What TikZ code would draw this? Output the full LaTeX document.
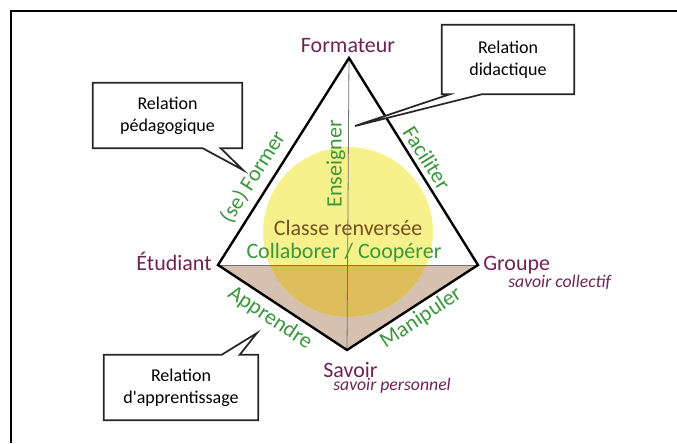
\documentclass[tikz,border=0pt]{standalone}
\usepackage{fontspec}
\setmainfont{Carlito}
\usepackage{tikz}
\usetikzlibrary{calc}
\definecolor{vertexcol}{RGB}{110,35,85}
\definecolor{verbcol}{RGB}{60,150,60}
\definecolor{classcol}{RGB}{120,80,30}
\definecolor{tanfill}{RGB}{214,192,176}
\definecolor{yellowfill}{RGB}{247,241,140}
\definecolor{goldfill}{RGB}{221,189,92}
\tikzset{vertexlbl/.style={inner sep=0pt,text=vertexcol,font=\fontsize{16.5}{19}\selectfont},
    sublbl/.style={inner sep=0pt,text=vertexcol,font=\fontsize{13.3}{16}\selectfont\itshape},
    verblbl/.style={inner sep=0pt,text=verbcol,font=\fontsize{16.5}{19}\selectfont},
    calloutbox/.style={inner sep=0pt,align=center,font=\fontsize{13.5}{16.5}\selectfont},
    boxline/.style={draw=black!85,line width=1.3pt,fill=white,line join=miter}}

\begin{document}
\begin{tikzpicture}[x=0.75pt,y=0.75pt,yscale=-1,xscale=1]
\useasboundingbox (0,0) rectangle (677,443);

%Frame lines
\draw[line width=1.5pt] (11,443) -- (11,11) -- (677,11);

%Vertices
\coordinate (form) at (349,58);
\coordinate (etud) at (218,265);
\coordinate (grp) at (478,265);
\coordinate (sav) at (347,350);

%Lower face
\fill[tanfill] (etud) -- (grp) -- (sav) -- cycle;
%Circle
\fill[yellowfill] (348,232) circle [radius=85];
\begin{scope}
\clip (etud) -- (grp) -- (sav) -- cycle;
\fill[goldfill] (348,232) circle [radius=85];
\end{scope}

%Thin lines
\draw[black!55,line width=0.6pt] (form) -- (sav);
\draw[black!55,line width=0.6pt] (etud) -- (grp);
%Edges
\draw[line width=1.8pt,line join=miter] (etud) -- (form) -- (grp) -- (sav) -- cycle;

%Vertex labels
\node[vertexlbl,anchor=base] (formlbl) at (348,52) {Formateur};
\node[vertexlbl,anchor=base east] (etudlbl) at (212,270) {Étudiant};
\node[vertexlbl,anchor=base west] (grplbl) at (483,270) {Groupe};
\node[sublbl,anchor=base west] (grpsub) at (508,287) {savoir collectif};
\node[vertexlbl,anchor=base west] (savlbl) at (323,377) {Savoir};
\node[sublbl,anchor=base west] (savsub) at (333,390) {savoir personnel};

%Centre
\node[inner sep=0pt,text=classcol,font=\fontsize{16.5}{19}\selectfont,anchor=base] (classlbl) at (348,235) {Classe renversée};
\node[verblbl,anchor=base] (collablbl) at (344,258) {Collaborer / Coopérer};

%Verbs
\node[verblbl,rotate=90] (enslbl) at (336,164) {Enseigner};
\node[verblbl,rotate=57.7] (formerlbl) at (253,177) {(se) Former};
\node[verblbl,rotate=-57.8] (faclbl) at (427,158) {Faciliter};
\node[verblbl,rotate=-33.4] (applbl) at (270,318) {Apprendre};
\node[verblbl,rotate=33.6] (maniplbl) at (421,318) {Manipuler};

%Callouts
\coordinate (pedatip) at (243,170);
\coordinate (didatip) at (355,126);
\coordinate (apptip) at (257,333);
\path (167.5,115.5) node[minimum width=111.75pt,minimum height=48.75pt] (pedabox) {};
\draw[boxline] (pedabox.south west) -- (pedabox.north west) -- (pedabox.north east) -- (pedabox.south east) -- ($(pedabox.south west)+(128,0)$) -- (pedatip) -- ($(pedabox.south west)+(110,0)$) -- cycle;
\node[calloutbox] (pedatxt) at (pedabox) {Relation\\pédagogique};

\path (508,59.5) node[minimum width=99pt,minimum height=51.75pt] (didabox) {};
\draw[boxline] (didabox.south west) -- (didabox.north west) -- (didabox.north east) -- (didabox.south east) -- ($(didabox.south west)+(40,0)$) -- (didatip) -- ($(didabox.south west)+(8,0)$) -- cycle;
\node[calloutbox] (didatxt) at (didabox) {Relation\\didactique};

\path (181,387.5) node[minimum width=115.5pt,minimum height=48.75pt] (appbox) {};
\draw[boxline] (appbox.north west) -- ($(appbox.north west)+(118,0)$) -- (apptip) -- ($(appbox.north west)+(136,0)$) -- (appbox.north east) -- (appbox.south east) -- (appbox.south west) -- cycle;
\node[calloutbox] (apptxt) at (appbox) {Relation\\d\textquotesingle apprentissage};

\end{tikzpicture}
\end{document}
